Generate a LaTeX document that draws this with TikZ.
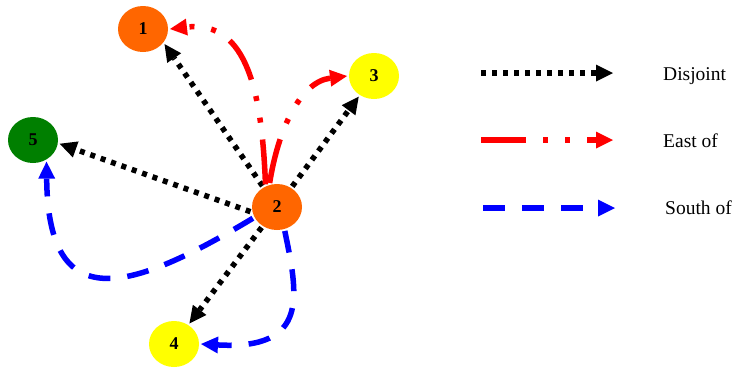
\documentclass[tikz,border=0pt]{standalone}
\usepackage{fontspec}
\setmainfont{Liberation Serif}
\usetikzlibrary{arrows.meta,shapes.geometric}
\definecolor{regorange}{HTML}{FF6600}
\definecolor{regyellow}{HTML}{FFFF00}
\definecolor{reggreen}{HTML}{007F00}
\begin{document}
\begin{tikzpicture}[x=1pt,y=-1pt,
  region/.style={ellipse, minimum width=50pt, minimum height=46pt, inner sep=0pt, outer sep=2pt, font=\fontsize{18}{18}\selectfont\bfseries},
  tip/.style={-{Triangle[length=17pt,width=17pt,line width=0pt]}},
  disjoint/.style={tip, black, line width=5.5pt, dash pattern=on 5pt off 6pt},
  eastof/.style={tip, red, line width=5.5pt, dash pattern=on 45pt off 17pt on 5pt off 17pt on 5pt off 17pt},
  southof/.style={tip, blue, line width=5.5pt, dash pattern=on 22pt off 17pt},
  legend/.style={anchor=base west, inner sep=0pt, font=\fontsize{19.5}{22}\selectfont}]
\useasboundingbox (0,0) rectangle (735,368);

\node[region, fill=regorange] (n1) at (143,29) {1};
\node[region, fill=regorange] (n2) at (277,207) {2};
\node[region, fill=regyellow] (n3) at (374,76) {3};
\node[region, fill=regyellow] (n4) at (174,344) {4};
\node[region, fill=reggreen] (n5) at (33,140) {5};

\draw[disjoint] (n2) -- (n1.-35);
\draw[disjoint] (n2) -- (n3);
\draw[disjoint] (n2.190) -- (n5.-8);
\draw[disjoint] (n2) -- (n4);

\draw[eastof] (n2.117) .. controls (262,95) and (248,20) .. (n1.east);
\draw[eastof] (n2.107) .. controls (278,130) and (300,82) .. (n3.west);

\draw[southof] (n2.205) .. controls (130,292) and (48,318) .. (n5.-58);
\draw[southof] (n2.-72) .. controls (298,295) and (310,350) .. (n4.east);

\coordinate (dj-a) at (481,73);
\coordinate (dj-b) at (613,73);
\coordinate (ea-a) at (481,140);
\coordinate (ea-b) at (613,140);
\coordinate (so-a) at (483,208);
\coordinate (so-b) at (615,208);
\draw[disjoint] (dj-a) -- (dj-b);
\draw[eastof] (ea-a) -- (ea-b);
\draw[southof] (so-a) -- (so-b);
\node[legend] (dj-t) at (663,80) {Disjoint};
\node[legend] (ea-t) at (663,147) {East of};
\node[legend] (so-t) at (665,214) {South of};

\end{tikzpicture}
\end{document}
